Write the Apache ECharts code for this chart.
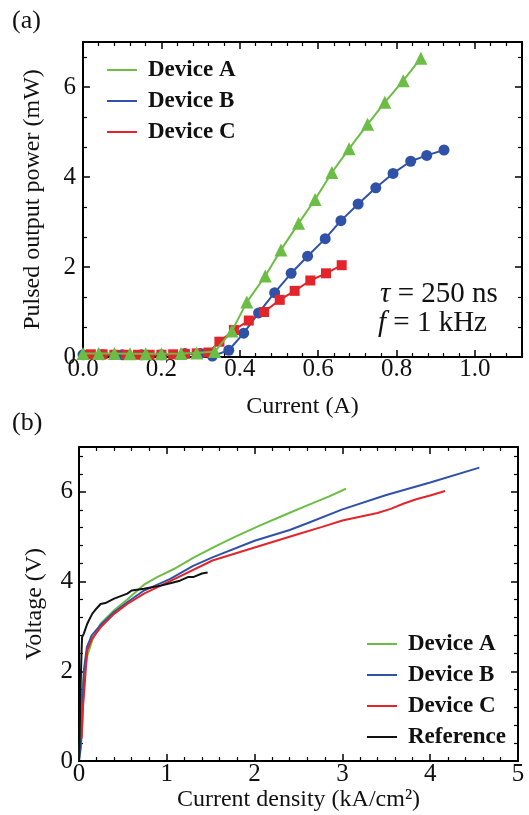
<!DOCTYPE html>
<html>
<head>
<meta charset="utf-8">
<script src="https://cdn.jsdelivr.net/npm/echarts@6/dist/echarts.min.js"></script>
<style>html,body{margin:0;padding:0;background:#fff;}#c{width:529px;height:815px;}</style>
</head>
<body>
<div id="c"></div>
<script>
// ---------- Panel (a): pulsed output power vs current ----------
var aCurrentA = [0.0, 0.04, 0.08, 0.12, 0.16, 0.2, 0.25, 0.29, 0.336, 0.38, 0.418, 0.465, 0.505, 0.55, 0.592, 0.635, 0.679, 0.726, 0.77, 0.817, 0.862];
var aPowerA   = [0.08, 0.08, 0.08, 0.07, 0.07, 0.07, 0.08, 0.09, 0.12, 0.58, 1.22, 1.8, 2.38, 2.97, 3.5, 4.1, 4.63, 5.17, 5.66, 6.14, 6.64];
var aCurrentB = [0.0, 0.05, 0.1, 0.15, 0.2, 0.26, 0.3, 0.33, 0.372, 0.41, 0.448, 0.489, 0.531, 0.573, 0.618, 0.658, 0.702, 0.747, 0.791, 0.836, 0.877, 0.921];
var aPowerB   = [0.05, 0.05, 0.05, 0.05, 0.05, 0.08, 0.08, 0.02, 0.15, 0.53, 0.98, 1.43, 1.86, 2.24, 2.63, 3.03, 3.4, 3.76, 4.08, 4.35, 4.48, 4.6];
var aCurrentC = [0.02, 0.05, 0.08, 0.11, 0.14, 0.17, 0.2, 0.23, 0.26, 0.29, 0.32, 0.348, 0.385, 0.423, 0.462, 0.502, 0.54, 0.58, 0.62, 0.66];
var aPowerC   = [0.06, 0.06, 0.05, 0.05, 0.05, 0.05, 0.05, 0.06, 0.07, 0.08, 0.1, 0.34, 0.6, 0.81, 1.0, 1.27, 1.47, 1.7, 1.86, 2.04];

// ---------- Panel (b): voltage vs current density ----------
var bDensityA = [0, 0.01, 0.02, 0.035, 0.055, 0.09, 0.15, 0.246, 0.4, 0.55, 0.74, 0.89, 1.08, 1.31, 1.57, 1.8, 2.07, 2.3, 2.6, 2.85, 3.04];
var bVoltA    = [0, 0.4, 1.0, 1.5, 1.87, 2.32, 2.69, 3.06, 3.36, 3.6, 3.93, 4.1, 4.28, 4.54, 4.8, 5.02, 5.26, 5.45, 5.7, 5.9, 6.07];
var bDensityB = [0, 0.02, 0.035, 0.045, 0.055, 0.09, 0.145, 0.24, 0.4, 0.55, 0.74, 1.04, 1.3, 1.52, 2.0, 2.4, 2.6, 3.0, 3.5, 4.0, 4.56];
var bVoltB    = [0, 0.3, 0.76, 1.5, 2.02, 2.54, 2.8, 3.02, 3.32, 3.54, 3.8, 4.06, 4.35, 4.54, 4.91, 5.15, 5.3, 5.61, 5.93, 6.21, 6.54];
var bDensityC = [0.03, 0.045, 0.055, 0.074, 0.094, 0.15, 0.246, 0.4, 0.55, 0.74, 1.05, 1.52, 2.0, 2.5, 2.77, 3.0, 3.4, 3.55, 3.7, 3.85, 4.0, 4.17];
var bVoltC    = [0.5, 1.2, 1.43, 1.95, 2.47, 2.73, 2.98, 3.28, 3.5, 3.73, 4.02, 4.47, 4.76, 5.06, 5.22, 5.36, 5.53, 5.62, 5.74, 5.84, 5.92, 6.02];
var bDensityR = [0, 0.01, 0.02, 0.03, 0.035, 0.055, 0.094, 0.15, 0.2, 0.246, 0.3, 0.4, 0.55, 0.6, 0.74, 0.93, 1.05, 1.15, 1.24, 1.3, 1.4, 1.465];
var bVoltR    = [0, 0.8, 1.8, 2.5, 2.76, 2.84, 3.06, 3.28, 3.4, 3.5, 3.52, 3.62, 3.73, 3.8, 3.84, 3.91, 3.97, 4.02, 4.1, 4.1, 4.18, 4.2];

var seriesNames = ['Device A', 'Device B', 'Device C', 'Reference'];
var aTickLabels = ['0.0', '0.2', '0.4', '0.6', '0.8', '1.0'];

var GREEN = '#6cbd45', BLUE = '#2f52a8', RED = '#e3242a', BLACK = '#111111';
var FONT = 'Liberation Serif';

function zip(xs, ys) { return xs.map(function (x, i) { return [x, ys[i]]; }); }

function axisCommon(extra) {
  var o = {
    type: 'value',
    axisLine: { show: true, onZero: false, lineStyle: { color: '#000', width: 2 } },
    axisTick: { show: true, inside: true, length: 7, lineStyle: { color: '#000', width: 1.5 } },
    minorTick: { show: true, length: 4, lineStyle: { color: '#000', width: 1.2 } },
    splitLine: { show: false },
    axisLabel: { show: false },
    nameTextStyle: { fontFamily: FONT, fontSize: 24, color: '#111' }
  };
  for (var k in extra) o[k] = extra[k];
  return o;
}
function minor(n) { return { show: true, splitNumber: n, length: 4, lineStyle: { color: '#000', width: 1.2 } }; }

var chart = echarts.init(document.getElementById('c'), null, { renderer: 'canvas' });
chart.setOption({
  backgroundColor: '#fff',
  animation: false,
  grid: [
    { left: 83, top: 42, width: 439, height: 315 },
    { left: 79, top: 447, width: 439, height: 314 }
  ],
  xAxis: [
    axisCommon({ gridIndex: 0, position: 'bottom', min: 0, max: 1.12, interval: 0.2, minorTick: minor(5),
      axisLabel: { show: true, fontFamily: FONT, fontSize: 25, color: '#111', margin: 0, showMaxLabel: false,
        formatter: function (v) { var s = v.toFixed(1); return aTickLabels.indexOf(s) >= 0 ? s : ''; } },
      name: 'Current (A)', nameLocation: 'middle', nameGap: 38 }),
    axisCommon({ gridIndex: 0, position: 'top', min: 0, max: 1.12, interval: 0.2, minorTick: minor(5) }),
    axisCommon({ gridIndex: 1, position: 'bottom', min: 0, max: 5, interval: 1, minorTick: minor(5),
      axisLabel: { show: true, fontFamily: FONT, fontSize: 25, color: '#111', margin: 1, showMaxLabel: true },
      name: 'Current density (kA/cm²)', nameLocation: 'middle', nameGap: 24 }),
    axisCommon({ gridIndex: 1, position: 'top', min: 0, max: 5, interval: 1, minorTick: minor(5) })
  ],
  yAxis: [
    axisCommon({ gridIndex: 0, position: 'left', min: 0, max: 7, interval: 2, minorTick: minor(3),
      axisLabel: { show: true, fontFamily: FONT, fontSize: 25, color: '#111', margin: 7, showMaxLabel: false },
      name: 'Pulsed output power (mW)', nameLocation: 'middle', nameGap: 38 }),
    axisCommon({ gridIndex: 0, position: 'right', min: 0, max: 7, interval: 2, minorTick: minor(3) }),
    axisCommon({ gridIndex: 1, position: 'left', min: 0, max: 7, interval: 2, minorTick: minor(5),
      axisLabel: { show: true, fontFamily: FONT, fontSize: 25, color: '#111', margin: 6, showMaxLabel: false },
      name: 'Voltage (V)', nameLocation: 'middle', nameGap: 32 }),
    axisCommon({ gridIndex: 1, position: 'right', min: 0, max: 7, interval: 2, minorTick: minor(5) })
  ],
  legend: [
    { orient: 'vertical', left: 102, top: 53, itemWidth: 30, itemHeight: 2, itemGap: 7, icon: 'rect',
      data: seriesNames.slice(0, 3), selectedMode: false,
      textStyle: { fontFamily: FONT, fontSize: 23, fontWeight: 'bold', color: '#111', lineHeight: 24, padding: [0, 0, 0, 6] } },
    { orient: 'vertical', left: 362, top: 627, itemWidth: 30, itemHeight: 2, itemGap: 7, icon: 'rect',
      data: seriesNames, selectedMode: false,
      textStyle: { fontFamily: FONT, fontSize: 23, fontWeight: 'bold', color: '#111', lineHeight: 24, padding: [0, 0, 0, 6] } }
  ],
  graphic: [
    { type: 'text', left: 12, top: 8, style: { text: '(a)', fontFamily: FONT, fontSize: 26, fill: '#111' } },
    { type: 'text', left: 12, top: 410, style: { text: '(b)', fontFamily: FONT, fontSize: 26, fill: '#111' } },
    { type: 'text', left: 380, top: 280, style: { text: '{i|τ} = 250 ns', fontFamily: FONT, fontSize: 29, fill: '#111',
        rich: { i: { fontFamily: FONT, fontSize: 29, fontStyle: 'italic', fill: '#111' } } } },
    { type: 'text', left: 378, top: 309, style: { text: '{i|f} = 1 kHz', fontFamily: FONT, fontSize: 29, fill: '#111',
        rich: { i: { fontFamily: FONT, fontSize: 29, fontStyle: 'italic', fill: '#111' } } } }
  ],
  series: [
    { name: 'Device A', type: 'line', xAxisIndex: 0, yAxisIndex: 0, data: zip(aCurrentA, aPowerA), symbol: 'triangle', symbolSize: 13,
      color: GREEN, lineStyle: { color: GREEN, width: 2 }, itemStyle: { color: GREEN }, z: 3 },
    { name: 'Device B', type: 'line', xAxisIndex: 0, yAxisIndex: 0, data: zip(aCurrentB, aPowerB), symbol: 'circle', symbolSize: 11,
      color: BLUE, lineStyle: { color: BLUE, width: 2 }, itemStyle: { color: BLUE }, z: 2 },
    { name: 'Device C', type: 'line', xAxisIndex: 0, yAxisIndex: 0, data: zip(aCurrentC, aPowerC), symbol: 'rect', symbolSize: 10,
      color: RED, lineStyle: { color: RED, width: 2 }, itemStyle: { color: RED }, z: 2 },
    { name: 'Device A', type: 'line', xAxisIndex: 2, yAxisIndex: 2, data: zip(bDensityA, bVoltA), showSymbol: false, symbol: 'none',
      color: GREEN, lineStyle: { color: GREEN, width: 2 } },
    { name: 'Device B', type: 'line', xAxisIndex: 2, yAxisIndex: 2, data: zip(bDensityB, bVoltB), showSymbol: false, symbol: 'none',
      color: BLUE, lineStyle: { color: BLUE, width: 2 } },
    { name: 'Device C', type: 'line', xAxisIndex: 2, yAxisIndex: 2, data: zip(bDensityC, bVoltC), showSymbol: false, symbol: 'none',
      color: RED, lineStyle: { color: RED, width: 2 } },
    { name: 'Reference', type: 'line', xAxisIndex: 2, yAxisIndex: 2, data: zip(bDensityR, bVoltR), showSymbol: false, symbol: 'none',
      color: BLACK, lineStyle: { color: BLACK, width: 2 } }
  ]
});
</script>
</body>
</html>
